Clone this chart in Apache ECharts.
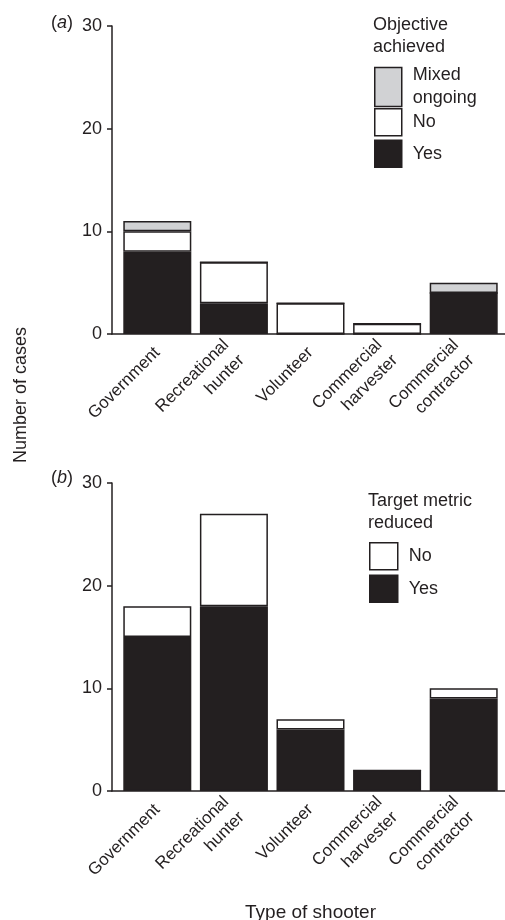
<!DOCTYPE html>
<html>
<head>
<meta charset="utf-8">
<title>Type of shooter – cases</title>
<script src="https://cdn.jsdelivr.net/npm/echarts@6/dist/echarts.min.js"></script>
<style>
  html, body { margin: 0; padding: 0; background: #fff; }
  #chart { width: 505px; height: 920px; }
</style>
</head>
<body>
<div id="chart"></div>
<script>
// Shooter categories (shared by both panels)
const categories = ['Government', 'Recreational\nhunter', 'Volunteer', 'Commercial\nharvester', 'Commercial\ncontractor'];

// Panel (a): objective achieved
const objYes = [8, 3, 0, 0, 4];
const objNo = [2, 4, 3, 1, 0];
const objMixed = [1, 0, 0, 0, 1];

// Panel (b): target metric reduced
const metYes = [15, 18, 6, 2, 9];
const metNo = [3, 9, 1, 0, 1];

// Count-axis range and step
const yMin = 0, yMax = 30, yStep = 10;

const INK = '#231f20';
const FONT = "'Liberation Sans', Arial, Helvetica, sans-serif";
const COLORS = { yes: '#231f20', no: '#ffffff', mixed: '#d1d2d4' };

// Two kinds of grid per panel: a slightly wider "frame" grid that carries the
// axis lines and count labels, and an inset data grid holding the stacked bars.
const PANEL_TOPS = [26, 483];
const PANEL_H = 308;

const grids = [];
PANEL_TOPS.forEach(top => grids.push({ left: 119, right: 3, top, height: PANEL_H, outerBoundsMode: 'none', containLabel: false }));   // data
PANEL_TOPS.forEach(top => grids.push({ left: 112, right: 0, top, height: PANEL_H, outerBoundsMode: 'none', containLabel: false }));   // frame

const xAxes = [
  // data grids: category labels only
  ...[0, 1].map(i => ({
    type: 'category', gridIndex: i, data: categories,
    axisLine: { show: false }, axisTick: { show: false },
    axisLabel: { rotate: 45, margin: 16, interval: 0,
      fontFamily: FONT, fontSize: 17, lineHeight: 22, color: INK },
    name: i === 1 ? 'Type of shooter' : '',
    nameLocation: 'middle', nameGap: 112,
    nameTextStyle: { fontFamily: FONT, fontSize: 19, color: INK }
  })),
  // frame grids: baseline only
  ...[2, 3].map(i => ({
    type: 'value', gridIndex: i, min: 0, max: 1,
    axisLine: { show: true, onZero: false, lineStyle: { color: INK, width: 1.5 } },
    axisTick: { show: false }, axisLabel: { show: false }, splitLine: { show: false }
  }))
];

const yAxes = [
  ...[0, 1].map(i => ({
    type: 'value', gridIndex: i, min: yMin, max: yMax, interval: yStep, show: false
  })),
  ...[2, 3].map(i => ({
    type: 'value', gridIndex: i, min: yMin, max: yMax, interval: yStep,
    splitLine: { show: false },
    axisLine: { show: true, onZero: false, lineStyle: { color: INK, width: 1.5 } },
    axisTick: { show: true, length: 5, lineStyle: { color: INK, width: 1.5 } },
    axisLabel: { margin: 10, fontFamily: FONT, fontSize: 18, color: INK }
  }))
];

function barSeries(name, data, color, idx, stack) {
  return {
    type: 'bar', name, stack,
    xAxisIndex: idx, yAxisIndex: idx,
    data,
    barWidth: 68,
    itemStyle: { color, borderColor: INK, borderWidth: 1.5 },
    emphasis: { disabled: true }
  };
}

const legendText = { fontFamily: FONT, fontSize: 18, color: INK, lineHeight: 23, padding: [0, 0, 0, 6] };
const legendItem = { borderColor: INK, borderWidth: 1.5 };
const panelTag = letter => ({
  text: '({i|' + letter + '})',
  textStyle: { fontFamily: FONT, fontSize: 18, fontWeight: 'normal', color: INK,
    rich: { i: { fontFamily: FONT, fontSize: 18, fontStyle: 'italic', color: INK } } }
});

const option = {
  backgroundColor: '#fff',
  animation: false,
  grid: grids,
  xAxis: xAxes,
  yAxis: yAxes,
  title: [
    Object.assign(panelTag('a'), { left: 46, top: 9 }),
    Object.assign(panelTag('b'), { left: 46, top: 464 }),
    { text: 'Objective\nachieved', left: 368, top: 9,
      textStyle: { fontFamily: FONT, fontSize: 18, fontWeight: 'normal', color: INK, lineHeight: 22 } },
    { text: 'Target metric\nreduced', left: 363, top: 485,
      textStyle: { fontFamily: FONT, fontSize: 18, fontWeight: 'normal', color: INK, lineHeight: 22 } }
  ],
  legend: [
    { data: ['Mixed ongoing'], left: 374, top: 64, padding: 0, orient: 'vertical', icon: 'rect',
      itemWidth: 27, itemHeight: 39, selectedMode: false,
      formatter: n => n.replace(' ', '\n'),
      itemStyle: legendItem, textStyle: legendText },
    { data: ['No', 'Yes'], left: 374, top: 108, padding: 0, orient: 'vertical', icon: 'rect',
      itemWidth: 27, itemHeight: 27, itemGap: 3, selectedMode: false,
      itemStyle: legendItem, textStyle: legendText },
    { data: ['No', 'Yes'], left: 369, top: 542, padding: 0, orient: 'vertical', icon: 'rect',
      itemWidth: 28, itemHeight: 27, itemGap: 4, selectedMode: false,
      itemStyle: legendItem, textStyle: legendText }
  ],
  graphic: [
    { type: 'text', x: 21, y: 395, rotation: Math.PI / 2,
      style: { text: 'Number of cases', fontFamily: FONT, fontSize: 18, fill: INK,
        align: 'center', verticalAlign: 'middle' } }
  ],
  series: [
    barSeries('Yes', objYes, COLORS.yes, 0, 'obj'),
    barSeries('No', objNo, COLORS.no, 0, 'obj'),
    barSeries('Mixed ongoing', objMixed, COLORS.mixed, 0, 'obj'),
    barSeries('Yes', metYes, COLORS.yes, 1, 'met'),
    barSeries('No', metNo, COLORS.no, 1, 'met')
  ]
};

const chart = echarts.init(document.getElementById('chart'), null, { renderer: 'canvas' });
chart.setOption(option);
</script>
</body>
</html>
